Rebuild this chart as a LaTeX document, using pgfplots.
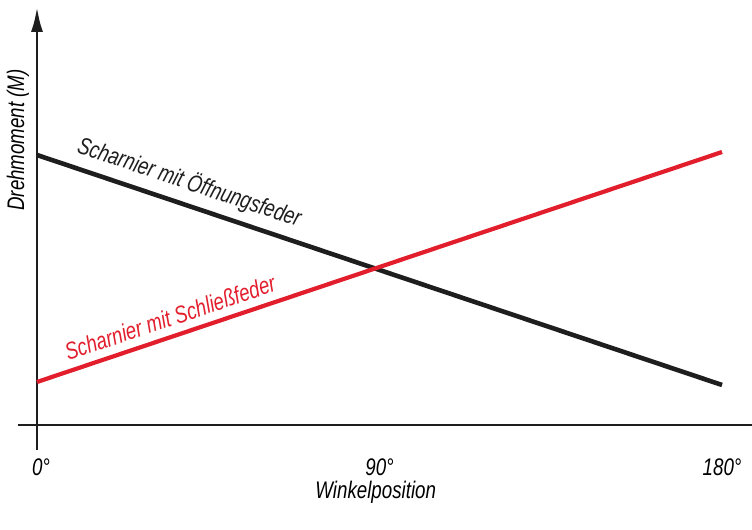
\documentclass[border=0pt]{standalone}
\usepackage{pgfplots}
\pgfplotsset{compat=1.18}
\usetikzlibrary{arrows.meta}
\usepackage{fontspec}
\setmainfont{Liberation Sans}[FakeStretch=0.78]
\definecolor{hred}{RGB}{226,30,45}
\definecolor{hblack}{RGB}{30,30,30}
\newcommand{\lblfont}{\itshape\fontsize{12}{14}\selectfont}
\begin{document}
\begin{tikzpicture}
\path[use as bounding box] (0,0) rectangle (376pt,265pt);
\begin{axis}[
  at={(18.5pt,52.5pt)}, anchor=origin,
  x=1.903pt, y=0.5pt,
  xmin=-5, xmax=188, ymin=-25, ymax=418,
  axis lines=middle,
  hide obscured x ticks=false,
  x axis line style={-, line width=1.4pt, color=hblack},
  y axis line style={-{Latex[length=12.5pt,width=6pt]}, line width=1.4pt, color=hblack},
  xtick={0,90,180}, xticklabels={\hspace{4pt}0°,90°,180°},
  ytick=\empty,
  major tick length=0pt,
  xticklabel style={anchor=center, yshift=-21pt, font=\lblfont},
  clip=false,
  xlabel={Winkelposition}, ylabel={Drehmoment (M)},
  every axis x label/.style={at={(axis cs:89,-67)}, anchor=center, font=\lblfont},
  every axis y label/.style={at={(axis cs:-5,285)}, anchor=center, rotate=90, font=\lblfont},
]
\addplot[hblack, line width=2.3pt] coordinates {(0,270) (180,40)}
  node[pos=0.212, sloped, above=0.5pt, font=\lblfont, text=hblack] {Scharnier mit Öffnungsfeder};
\addplot[hred, line width=2.1pt] coordinates {(0,43) (180,273)}
  node[pos=0.203, sloped, above=0.5pt, font=\lblfont, text=hred] {Scharnier mit Schließfeder};
\end{axis}
\end{tikzpicture}
\end{document}
